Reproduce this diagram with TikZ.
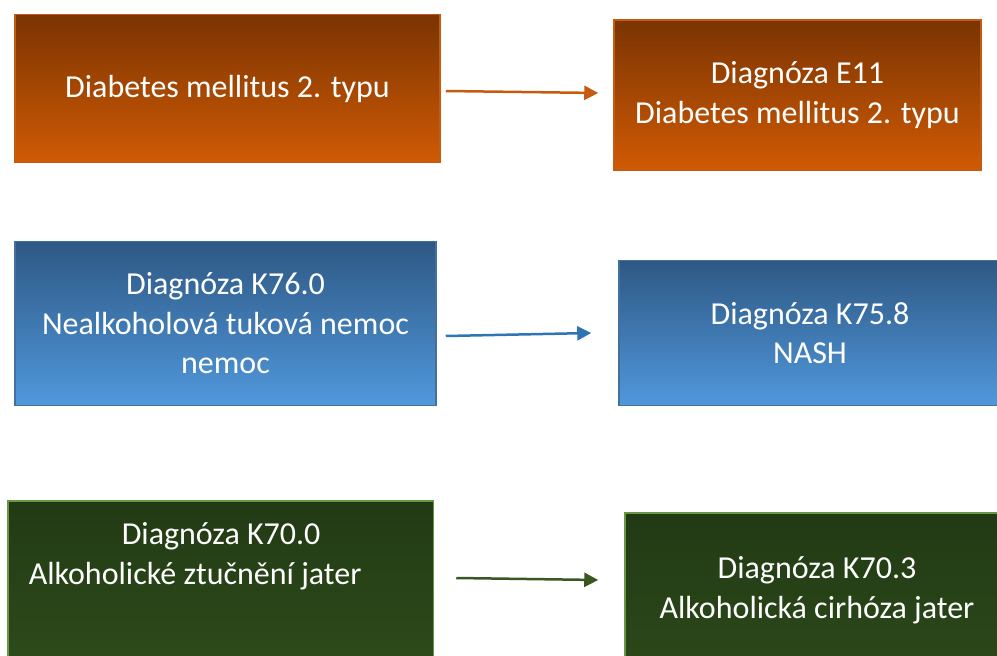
\documentclass[tikz,border=0pt]{standalone}
\usepackage{fontspec}
\setmainfont{Carlito}
\usetikzlibrary{arrows.meta}

\definecolor{orTop}{RGB}{122,52,2}
\definecolor{orBot}{RGB}{208,90,4}
\definecolor{orLine}{RGB}{197,90,17}
\definecolor{blTop}{RGB}{46,88,132}
\definecolor{blBot}{RGB}{80,152,220}
\definecolor{blLine}{RGB}{65,113,156}
\definecolor{blArrow}{RGB}{46,117,182}
\definecolor{grTop}{RGB}{34,58,20}
\definecolor{grBot}{RGB}{56,90,34}
\definecolor{grLine}{RGB}{106,150,72}
\definecolor{grArrow}{RGB}{56,87,35}

\begin{document}
\begin{tikzpicture}[x=1pt, y=-1pt, >={Triangle[length=14pt,width=14pt]},
	box/.style={rectangle, line width=1.5pt, text=white, align=center,
		font=\fontsize{32pt}{39.5pt}\selectfont, inner sep=4pt},
	orbox/.style={box, draw=orLine, top color=orTop, bottom color=orBot},
	blbox/.style={box, draw=blLine, top color=blTop, bottom color=blBot},
	grbox/.style={box, draw=grLine, top color=grTop, bottom color=grBot},
	conn/.style={->, line width=2.5pt}]
	\useasboundingbox (0,0) rectangle (997,656);
	% diabetes
	\node[orbox, minimum width=425pt, minimum height=148pt] (dm) at (227.5,88.5) {Diabetes mellitus 2. typu};
	\node[orbox, minimum width=367pt, minimum height=150pt] (e11) at (797.5,95) {Diagnóza E11\\Diabetes mellitus 2. typu};
	% nealkoholova
	\node[blbox, minimum width=421pt, minimum height=164pt] (k760) at (225.5,323.5) {Diagnóza K76.0\\Nealkoholová tuková nemoc\\nemoc};
	\node[blbox, minimum width=382pt, minimum height=145pt] (k758) at (810,333) {Diagnóza K75.8\\NASH};
	% alkoholicka
	\node[grbox, anchor=north west, inner ysep=22pt, inner xsep=21pt, text depth=200pt, align=left] (k700) at (7,500)
		{\hspace*{93pt}Diagnóza K70.0\\Alkoholické ztučnění jater\hspace*{51pt}};
	\node[grbox, anchor=north, inner ysep=44pt, text depth=200pt, minimum width=384pt] (k703) at (817,512)
		{Diagnóza K70.3\\Alkoholická cirhóza jater};
	% sipky
	\draw[conn, orLine] ([xshift=5pt,yshift=-2.5pt]dm.east) -- ([xshift=-15pt,yshift=2pt]e11.west);
	\draw[conn, blArrow] ([xshift=9pt,yshift=-12.5pt]k760.east) -- ([xshift=-27pt]k758.west);
	\draw[conn, grArrow] ([xshift=22pt,yshift=-78pt]k700.north east) -- ([xshift=-26pt,yshift=-68pt]k703.north west);
\end{tikzpicture}
\end{document}
